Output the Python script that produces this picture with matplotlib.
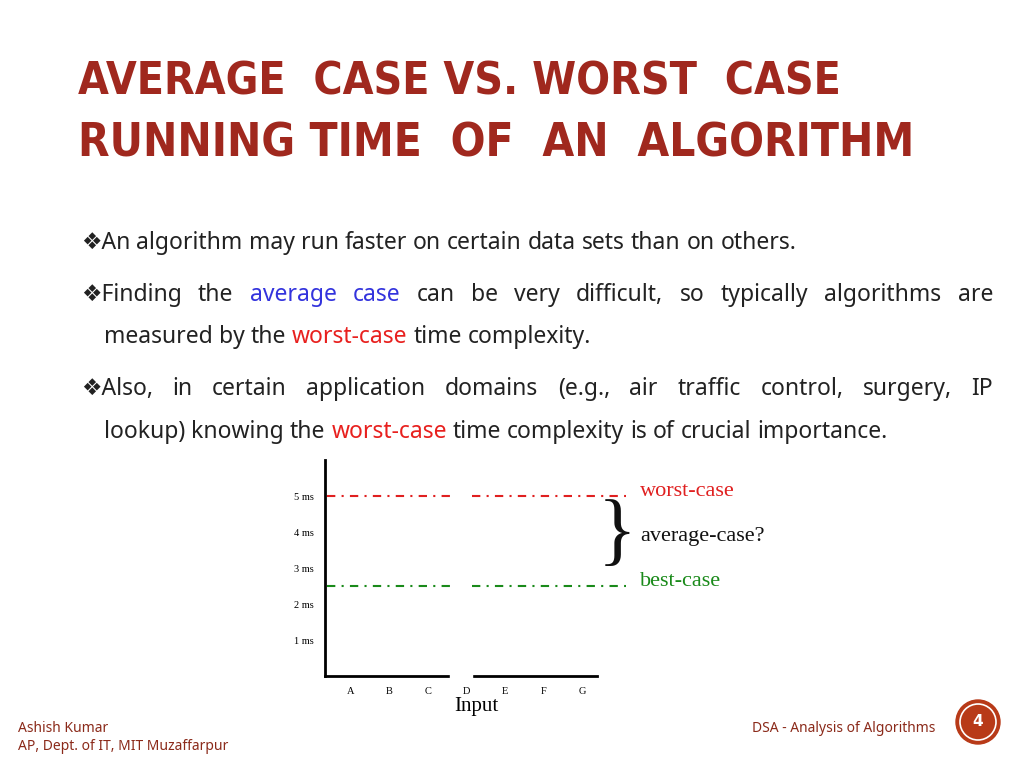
import matplotlib
matplotlib.use("Agg")
import matplotlib.pyplot as plt
from matplotlib.patches import Circle

categories = ["A", "B", "C", "D", "E", "F", "G"]
ytick_vals = [1, 2, 3, 4, 5]
ytick_labels = ["1 ms", "2 ms", "3 ms", "4 ms", "5 ms"]
worst_case = 5.0
best_case = 2.5
seg_left = [-0.63, 2.57]
seg_right = [3.14, 7.15]

TITLE_C = "#A0281E"
fig = plt.figure(figsize=(10.24, 7.68), dpi=100)
W, H = 1024, 768

def fx(x): return x / W
def fy(y): return 1 - y / H

renderer = fig.canvas.get_renderer()
for i, (t, target) in enumerate([("AVERAGE  CASE VS. WORST  CASE", 840), ("RUNNING TIME  OF  AN  ALGORITHM", 915)]):
    a = fig.text(fx(78), fy(82 + i * 62), t, fontsize=40, fontweight="bold",
                 family=["DejaVu Sans"], fontstretch="condensed",
                 color=TITLE_C, va="center", ha="left")
    w = a.get_window_extent(renderer).width
    a.set_fontsize(40 * (target - 78) / w)

BODY = dict(fontsize=16.5, family=["Noto Sans", "DejaVu Sans"])

def line(x0, y, words, x1=None):
    arts = [fig.text(0, fy(y), w, color=c, va="center", ha="left", **BODY) for w, c in words]
    widths = [a.get_window_extent(renderer).width for a in arts]
    space = 6.0
    if x1 is not None and len(arts) > 1:
        space = (x1 - x0 - sum(widths)) / (len(arts) - 1)
    x = x0
    for a, w in zip(arts, widths):
        a.set_x(fx(x))
        x += w + space

K, B, R = "#222222", "#3333DD", "#E8201E"
def ws(s, c=K): return [(w, c) for w in s.split()]

line(81, 243, [("❖An", K)] + ws("algorithm may run faster on certain data sets than on others."))
line(81, 295, [("❖Finding", K)] + ws("the") + ws("average case", B) + ws("can be very difficult, so typically algorithms are"), 993)
line(104, 337, ws("measured by the") + ws("worst-case", R) + ws("time complexity."))
line(81, 389, [("❖Also,", K)] + ws("in certain application domains (e.g., air traffic control, surgery, IP"), 993)
line(104, 432, ws("lookup) knowing the") + ws("worst-case", R) + ws("time complexity is of crucial importance."))

ax = fig.add_axes([fx(325), fy(676), fx(628) - fx(325), fy(460) - fy(676)])
ax.set_xlim(-0.675, 7.2)
ax.set_ylim(0, 6.0)
for s in ["top", "right"]:
    ax.spines[s].set_visible(False)
ax.spines["left"].set_linewidth(2)
ax.spines["bottom"].set_linewidth(2)
ax.spines["bottom"].set_bounds(-0.675, 6.4)
ax.set_xticks(range(len(categories)))
ax.set_xticklabels(categories, family="Liberation Serif", fontsize=7.5)
ax.set_yticks(ytick_vals)
ax.set_yticklabels(ytick_labels, family="Liberation Serif", fontsize=7.5)
ax.tick_params(length=0, pad=8)
ax.set_xlabel("Input", family="Liberation Serif", fontsize=15, labelpad=1)
for yv, col in [(worst_case, "#E02020"), (best_case, "#1A8A1A")]:
    ax.plot(seg_left, [yv] * 2, color=col, ls=(0, (4, 3, 1, 3)), lw=1.5)
    ax.plot(seg_right, [yv] * 2, color=col, ls=(0, (4, 3, 1, 3)), lw=1.5)
ax.axvspan(seg_left[1], seg_right[0], ymin=-0.01, ymax=0.01, color="white", zorder=5, clip_on=False)

fig.text(fx(640), fy(491), "worst-case", family="Liberation Serif", fontsize=16, color="#E02020", va="center")
fig.text(fx(640), fy(537), "average-case?", family="Liberation Serif", fontsize=16, color="#111111", va="center")
fig.text(fx(640), fy(581), "best-case", family="Liberation Serif", fontsize=16, color="#1A8A1A", va="center")
fig.text(fx(617), fy(536), "}", family="Liberation Serif", fontsize=58, color="#111111", va="center", ha="center")

fig.text(fx(18), fy(728), "Ashish Kumar", fontsize=10, color="#8B2A1A", family=["Noto Sans"], va="center")
fig.text(fx(18), fy(746), "AP, Dept. of IT, MIT Muzaffarpur", fontsize=10, color="#8B2A1A", family=["Noto Sans"], va="center")
fig.text(fx(935), fy(728), "DSA - Analysis of Algorithms", fontsize=10, color="#8B2A1A", family=["Noto Sans"], va="center", ha="right")

cax = fig.add_axes([0, 0, 1, 1], zorder=20)
cax.set_xlim(0, W); cax.set_ylim(H, 0); cax.axis("off")
cax.add_patch(Circle((978, 722), 22, color="#B83A18"))
cax.add_patch(Circle((978, 722), 18, fill=False, ec="white", lw=1.2))
cax.text(978, 722, "4", color="white", fontsize=11, fontweight="bold", ha="center", va="center")

fig.savefig("out.png", dpi=100)
